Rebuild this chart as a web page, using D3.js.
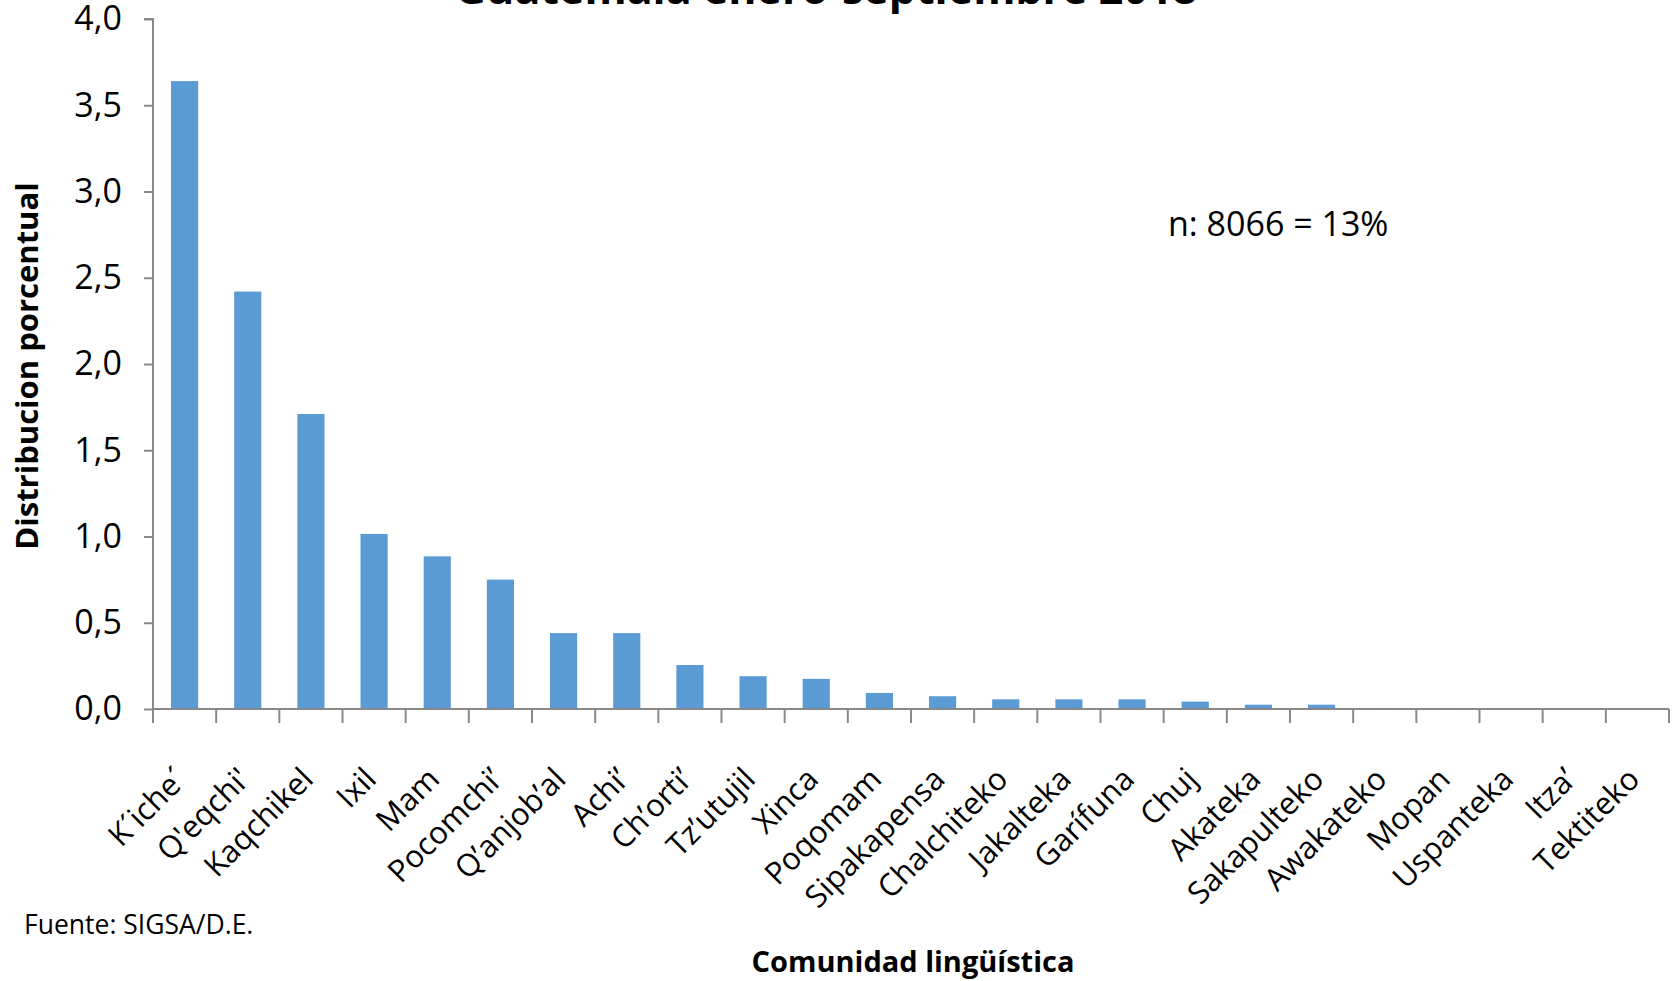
<!DOCTYPE html>
<html><head><meta charset="utf-8">
<script src="https://cdn.jsdelivr.net/npm/d3@7"></script>
<style>body{margin:0;background:#fff}</style>
</head><body>
<svg id="c" width="1675" height="981"></svg>
<script>
const categories = ["K´iche´","Q'eqchi'","Kaqchikel","Ixil","Mam","Pocomchi’","Q’anjob’al","Achi’","Ch’orti’","Tz’utujil","Xinca","Poqomam","Sipakapensa","Chalchiteko","Jakalteka","Garífuna","Chuj","Akateka","Sakapulteko","Awakateko","Mopan","Uspanteka","Itza’","Tektiteko"];
const values = [3.64,2.42,1.71,1.015,0.885,0.75,0.44,0.44,0.255,0.19,0.175,0.093,0.074,0.056,0.056,0.056,0.043,0.025,0.025,0.006,0.006,0.003,0.003,0.003];
const yTicks = [0,0.5,1,1.5,2,2.5,3,3.5,4];
const title = "Guatemala enero-septiembre 2018";
const yLabel = "Distribucion porcentual";
const xLabel = "Comunidad lingüística";
const note = "n: 8066 = 13%";
const source = "Fuente: SIGSA/D.E.";

(function(){
const svg = d3.select("#c");
const mL = 153, mR = 1669, mT = 19, mB = 709;
const x = d3.scaleBand().domain(categories).range([mL, mR]).paddingInner(0.57).paddingOuter(0.285);
const y = d3.scaleLinear().domain([0,4]).range([mB, mT]);
const font = "'Open Sans', sans-serif";
const axisCol = "#898989";

svg.append("g").selectAll("rect").data(values).join("rect")
  .attr("x", (d,i)=>x(categories[i]))
  .attr("width", x.bandwidth())
  .attr("y", d=>y(d))
  .attr("height", d=>y(0)-y(d))
  .attr("fill", "#5B9BD5");

const ya = svg.append("g").attr("transform",`translate(${mL},0)`)
  .call(d3.axisLeft(y).tickValues(yTicks).tickSize(9).tickPadding(22).tickFormat(d=>d3.format(".1f")(d).replace(".",",")));
ya.select(".domain").attr("stroke",axisCol).attr("stroke-width",2).attr("d",`M-9,${mT}H0V${mB}`);
ya.selectAll(".tick line").attr("stroke",axisCol).attr("stroke-width",2);
ya.selectAll(".tick text").attr("font-family",font).attr("font-size",34).attr("fill","#000");

const xa = svg.append("g").attr("transform",`translate(0,${mB})`);
xa.append("line").attr("x1",mL).attr("x2",mR).attr("stroke",axisCol).attr("stroke-width",2);
const step = x.step();
const bounds = d3.range(categories.length+1).map(i=>mL + i*step);
xa.selectAll("line.tk").data(bounds).join("line").attr("class","tk")
  .attr("x1",d=>d).attr("x2",d=>d).attr("y1",0).attr("y2",14)
  .attr("stroke",axisCol).attr("stroke-width",2);
xa.selectAll("text").data(categories).join("text")
  .attr("transform",d=>`translate(${x(d)+x.bandwidth()/2+4},72) rotate(-45)`)
  .attr("text-anchor","end")
  .attr("font-family",font).attr("font-size",31).attr("fill","#000")
  .text(d=>d);

svg.append("text").attr("x",826).attr("y",4).attr("text-anchor","middle")
  .attr("font-family",font).attr("font-weight","bold").attr("font-size",43).text(title);
svg.append("text").attr("transform","translate(38,366) rotate(-90)").attr("text-anchor","middle")
  .attr("font-family",font).attr("font-weight","bold").attr("font-size",31).text(yLabel);
svg.append("text").attr("x",913).attr("y",972).attr("text-anchor","middle")
  .attr("font-family",font).attr("font-weight","bold").attr("font-size",29).text(xLabel);
svg.append("text").attr("x",1168).attr("y",236)
  .attr("font-family",font).attr("font-size",34).text(note);
svg.append("text").attr("x",24).attr("y",934)
  .attr("font-family",font).attr("font-size",26.5).text(source);
})();
</script>
</body></html>
